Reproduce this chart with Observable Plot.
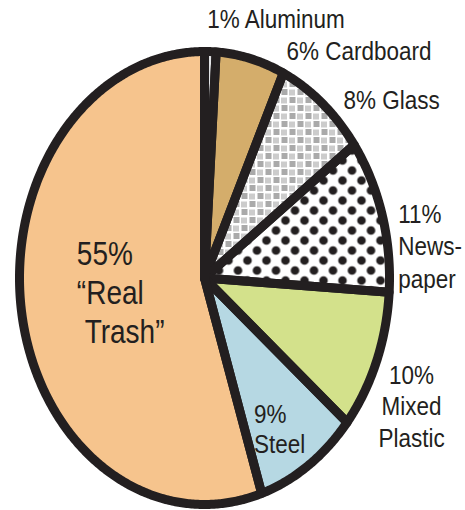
<!DOCTYPE html>
<html>
<head>
<meta charset="utf-8">
<script src="https://cdn.jsdelivr.net/npm/d3@7"></script>
<script src="https://cdn.jsdelivr.net/npm/@observablehq/plot@0.6"></script>
<style>
  html, body { margin: 0; padding: 0; background: #fff; }
  #chart svg { display: block; }
</style>
</head>
<body>
<div id="chart"></div>
<script>
// ---- data ----
const categories = ["Aluminum", "Cardboard", "Glass", "Newspaper", "Mixed Plastic", "Steel", "Real Trash"];
const values = [1, 6, 8, 11, 10, 9, 55];
const labels = ["1% Aluminum", "6% Cardboard", "8% Glass", "11%\nNews-\npaper", "10%\nMixed\nPlastic", "9%\nSteel", "55%\n\u201CReal\n\u00A0Trash\u201D"];
const fillColors = ["#E2E3E5", "#D4AD6B", "url(#glassPat)", "url(#dotPat)", "#D3E18B", "#B6D8E3", "#F6C48D"];

const rows = categories.map((category, i) => ({category, value: values[i], label: labels[i]}));
const arcs = d3.pie().sort(null).value(d => d.value)(rows);

// polygon outline of each slice, in unit-circle coordinates (y up)
const step = Math.PI / 360;
const pts = arcs.flatMap(a => {
  const n = Math.max(2, Math.ceil((a.endAngle - a.startAngle) / step));
  const ring = d3.range(n + 1).map(i => a.startAngle + (a.endAngle - a.startAngle) * i / n);
  return [[0, 0], ...ring.map(t => [Math.sin(t), Math.cos(t)]), [0, 0]]
    .map(([x, y]) => ({category: a.data.category, x, y}));
});

// label anchor: slice mid-angle at radius r
function anchor(i, r) {
  const a = arcs[i];
  const m = (a.startAngle + a.endAngle) / 2;
  return [{x: r * Math.sin(m), y: r * Math.cos(m), label: a.data.label}];
}

const ink = "#231F20";
const font = "'Liberation Sans', Arial, Helvetica, sans-serif";
const stretch = 1.18; // the lettering is tall and narrow
const base = {x: "x", y: "y", text: "label", fill: ink, fontFamily: font, fontSize: 22.5};

const chart = Plot.plot({
  width: 465,
  height: 510,
  margin: 0,
  x: {domain: [-1, 1], range: [19, 389], axis: null},
  y: {domain: [-1, 1], range: [504, 51], axis: null},
  color: {type: "ordinal", domain: categories, range: fillColors},
  style: {background: "#fff"},
  marks: [
    Plot.line(pts, {x: "x", y: "y", z: "category", fill: "category", stroke: "none"}),
    Plot.line(pts, {x: "x", y: "y", z: "category", fill: "none", stroke: ink, strokeWidth: 9, strokeLinejoin: "round"}),
    Plot.text(anchor(0, 1), {...base, textAnchor: "start", lineAnchor: "bottom", dx: -3, dy: -24}),
    Plot.text(anchor(1, 1), {...base, textAnchor: "start", lineAnchor: "bottom", dx: 36, dy: 1}),
    Plot.text(anchor(2, 1), {...base, textAnchor: "start", lineAnchor: "bottom", dx: 21, dy: 5.5}),
    Plot.text(anchor(3, 1), {...base, textAnchor: "start", lineAnchor: "top", dx: 16, dy: -15, lineHeight: 1.22}),
    Plot.text(anchor(4, 1), {...base, textAnchor: "middle", lineAnchor: "top", dx: 35, dy: 0, lineHeight: 1.19}),
    Plot.text(anchor(5, 0.6), {...base, textAnchor: "start", lineAnchor: "top", dx: -13, dy: 11, lineHeight: 1.13}),
    Plot.text(anchor(6, 0.6), {...base, fontSize: 28, lineHeight: 1.18, textAnchor: "start", lineAnchor: "top", dx: -18, dy: -62})
  ]
});

// stretch each label vertically about its own anchor
chart.querySelectorAll('g[aria-label="text"] text').forEach(el => {
  const t = el.getAttribute("transform");
  if (t) {
    el.setAttribute("transform", `${t} scale(1,${stretch})`);
  } else {
    const x = +el.getAttribute("x") || 0, y = +el.getAttribute("y") || 0;
    el.setAttribute("transform", `translate(${x},${y}) scale(1,${stretch}) translate(${-x},${-y})`);
  }
});

// fill patterns for Glass and Newspaper
const defs = document.createElementNS("http://www.w3.org/2000/svg", "defs");
defs.innerHTML = `
  <pattern id="dotPat" patternUnits="userSpaceOnUse" width="19" height="20">
    <rect width="19" height="20" fill="#fff"/>
    <circle cx="0" cy="0" r="4.3" fill="${ink}"/>
    <circle cx="19" cy="0" r="4.3" fill="${ink}"/>
    <circle cx="0" cy="20" r="4.3" fill="${ink}"/>
    <circle cx="19" cy="20" r="4.3" fill="${ink}"/>
    <circle cx="9.5" cy="10" r="4.3" fill="${ink}"/>
  </pattern>
  <pattern id="glassPat" patternUnits="userSpaceOnUse" width="16" height="16">
    <rect width="16" height="16" fill="#fff"/>
    <g fill="#555">
      <rect x="1" y="1" width="6" height="1"/><rect x="1" y="3" width="6" height="1"/><rect x="1" y="5" width="6" height="1"/>
      <rect x="9" y="9" width="6" height="1"/><rect x="9" y="11" width="6" height="1"/><rect x="9" y="13" width="6" height="1"/>
    </g>
    <g fill="#999">
      <rect x="9" y="1" width="1" height="6"/><rect x="11" y="1" width="1" height="6"/><rect x="13" y="1" width="1" height="6"/>
      <rect x="1" y="9" width="1" height="6"/><rect x="3" y="9" width="1" height="6"/><rect x="5" y="9" width="1" height="6"/>
    </g>
  </pattern>`;
chart.insertBefore(defs, chart.firstChild);

document.getElementById("chart").appendChild(chart);
</script>
</body>
</html>
